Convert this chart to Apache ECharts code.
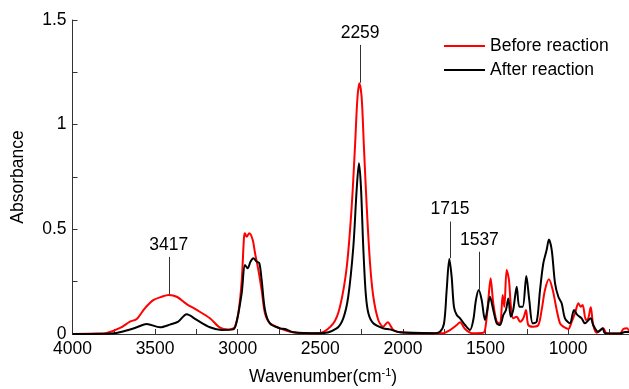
<!DOCTYPE html>
<html>
<head>
<meta charset="utf-8">
<script src="https://cdn.jsdelivr.net/npm/echarts@6/dist/echarts.min.js"></script>
<style>
html,body{margin:0;padding:0;background:#fff;}
#chart{width:629px;height:389px;}
</style>
</head>
<body>
<div id="chart"></div>
<script>
// ---- Data ----
const seriesNames = ['Before reaction', 'After reaction'];

const beforeWave = [4000, 3850, 3793, 3712, 3652, 3611, 3561, 3511, 3460, 3417, 3369, 3309, 3248, 3168, 3107, 3057, 3027, 3016, 2996, 2976, 2962, 2956, 2946, 2930, 2909, 2895, 2875, 2855, 2835, 2805, 2744, 2683, 2600, 2502, 2421, 2381, 2340, 2310, 2290, 2276, 2264, 2250, 2236, 2219, 2199, 2179, 2149, 2119, 2092, 2058, 2018, 1897, 1756, 1715, 1674, 1654, 1624, 1584, 1513, 1497, 1483, 1469, 1453, 1432, 1412, 1396, 1386, 1372, 1358, 1346, 1332, 1311, 1291, 1271, 1255, 1241, 1211, 1180, 1160, 1140, 1116, 1093, 1069, 1049, 1029, 999, 978, 958, 938, 924, 912, 892, 878, 863, 848, 827, 787, 767, 686, 666, 643, 630];
const beforeAbs = [0, 0.002, 0.005, 0.029, 0.059, 0.072, 0.124, 0.162, 0.178, 0.186, 0.178, 0.143, 0.115, 0.075, 0.03, 0.022, 0.027, 0.035, 0.1, 0.25, 0.46, 0.481, 0.465, 0.481, 0.449, 0.386, 0.306, 0.21, 0.099, 0.051, 0.027, 0.011, 0.004, 0.005, 0.051, 0.13, 0.32, 0.608, 0.895, 1.118, 1.198, 1.134, 0.895, 0.608, 0.338, 0.178, 0.067, 0.035, 0.056, 0.019, 0.008, 0.003, 0.004, 0.019, 0.043, 0.056, 0.024, 0.004, 0.006, 0.051, 0.162, 0.266, 0.147, 0.059, 0.051, 0.186, 0.13, 0.306, 0.258, 0.13, 0.075, 0.083, 0.059, 0.075, 0.115, 0.043, 0.035, 0.043, 0.115, 0.21, 0.261, 0.21, 0.115, 0.051, 0.035, 0.024, 0.059, 0.099, 0.147, 0.13, 0.139, 0.067, 0.075, 0.128, 0.043, 0.006, 0.027, 0.004, 0.002, 0.024, 0.027, 0.01];

const afterWave = [4000, 3800, 3733, 3662, 3611, 3551, 3470, 3410, 3360, 3309, 3248, 3168, 3097, 3027, 3006, 2976, 2956, 2940, 2922, 2906, 2885, 2869, 2855, 2835, 2805, 2744, 2714, 2664, 2502, 2401, 2361, 2331, 2300, 2280, 2266, 2254, 2240, 2225, 2209, 2179, 2119, 2078, 2018, 1816, 1776, 1751, 1735, 1719, 1705, 1691, 1674, 1654, 1624, 1594, 1574, 1558, 1541, 1523, 1503, 1489, 1473, 1453, 1432, 1412, 1392, 1376, 1362, 1347, 1332, 1311, 1295, 1275, 1253, 1235, 1214, 1190, 1170, 1150, 1130, 1116, 1099, 1079, 1059, 1039, 1019, 989, 964, 944, 918, 898, 863, 848, 818, 791, 777, 686, 656, 630];
const afterAbs = [0, 0.001, 0.005, 0.019, 0.032, 0.048, 0.032, 0.045, 0.059, 0.094, 0.067, 0.032, 0.019, 0.022, 0.06, 0.194, 0.33, 0.314, 0.346, 0.362, 0.346, 0.338, 0.258, 0.115, 0.051, 0.027, 0.024, 0.008, 0.003, 0.027, 0.075, 0.178, 0.417, 0.688, 0.816, 0.704, 0.417, 0.194, 0.099, 0.051, 0.027, 0.022, 0.008, 0.004, 0.011, 0.051, 0.21, 0.358, 0.274, 0.13, 0.091, 0.075, 0.043, 0.019, 0.067, 0.162, 0.21, 0.162, 0.067, 0.115, 0.178, 0.115, 0.051, 0.043, 0.091, 0.115, 0.17, 0.083, 0.115, 0.226, 0.13, 0.13, 0.277, 0.162, 0.051, 0.059, 0.21, 0.338, 0.401, 0.452, 0.401, 0.242, 0.178, 0.147, 0.075, 0.051, 0.115, 0.091, 0.075, 0.051, 0.075, 0.043, 0.011, 0.027, 0.004, 0.002, 0.01, 0.01];

// peak annotations: label, wavenumber, line bottom, line top (absorbance)
const peakLabels = ['3417', '2259', '1715', '1537'];
const peakWave = [3417, 2259, 1715, 1537];
const peakLineBottom = [0.19, 1.2, 0.362, 0.212];
const peakLineTop = [0.368, 1.381, 0.537, 0.393];

const xTicks = [500, 4000, 500];   // min, max, interval
const yTicks = [0, 1.5, 0.5];

// ---- Build ----
const FONT = 'Liberation Sans, Arial, sans-serif';
const FS = 17.5;

function pairs(xs, ys) { return xs.map((x, i) => [x, ys[i]]); }

const markData = peakWave.map((w, i) => [
  { coord: [w, peakLineBottom[i]], name: peakLabels[i] },
  { coord: [w, peakLineTop[i]] }
]);

const chart = echarts.init(document.getElementById('chart'), null, { renderer: 'canvas' });
chart.setOption({
  animation: false,
  backgroundColor: '#ffffff',
  textStyle: { fontFamily: FONT },
  grid: { left: 72.5, top: 20, height: 314, width: 578.2, outerBoundsMode: 'none', containLabel: false },
  legend: {
    orient: 'vertical',
    left: 444,
    top: 37,
    padding: 0,
    icon: 'rect',
    itemWidth: 41,
    itemHeight: 2,
    itemGap: 6,
    textStyle: { fontSize: FS, color: '#000', fontFamily: FONT, padding: [0, 0, 0, 0] },
    data: seriesNames
  },
  xAxis: {
    type: 'value',
    inverse: true,
    min: xTicks[0],
    max: xTicks[1],
    interval: xTicks[2],
    name: '{n|Wavenumber(cm}{s|-1}{n|)}',
    nameLocation: 'middle',
    nameGap: 33,
    nameTextStyle: {
      padding: [0, 77, 0, 0],
      rich: {
        n: { fontSize: FS, color: '#000', fontFamily: FONT },
        s: { fontSize: 11, color: '#000', fontFamily: FONT, padding: [0, 0, 9, 0] }
      }
    },
    axisLine: { show: true, lineStyle: { color: '#333', width: 1 } },
    axisTick: { show: true, inside: true, length: 5, lineStyle: { color: '#333' } },
    minorTick: { show: true, splitNumber: 2, length: 5, lineStyle: { color: '#333' } },
    splitLine: { show: false },
    axisLabel: { fontSize: FS, color: '#000', margin: 6, fontFamily: FONT, formatter: v => String(v) }
  },
  yAxis: {
    type: 'value',
    min: yTicks[0],
    max: yTicks[1],
    interval: yTicks[2],
    name: 'Absorbance',
    nameLocation: 'middle',
    nameGap: 45,
    nameTextStyle: { fontSize: FS, color: '#000', fontFamily: FONT },
    axisLine: { show: true, lineStyle: { color: '#333', width: 1 } },
    axisTick: { show: true, inside: true, length: 5, lineStyle: { color: '#333' } },
    minorTick: { show: true, splitNumber: 2, length: 5, lineStyle: { color: '#333' } },
    splitLine: { show: false },
    axisLabel: { fontSize: FS, color: '#000', margin: 6, fontFamily: FONT, formatter: v => String(v) }
  },
  series: [
    {
      name: seriesNames[0],
      type: 'line',
      data: pairs(beforeWave, beforeAbs),
      symbol: 'none',
      smooth: 0.3,
      lineStyle: { color: '#ff0000', width: 2 },
      itemStyle: { color: '#ff0000' },
      z: 2
    },
    {
      name: seriesNames[1],
      type: 'line',
      data: pairs(afterWave, afterAbs),
      symbol: 'none',
      smooth: 0.3,
      lineStyle: { color: '#000000', width: 2 },
      itemStyle: { color: '#000000' },
      z: 3,
      markLine: {
        silent: true,
        symbol: ['none', 'none'],
        animation: false,
        lineStyle: { color: '#333', width: 1, type: 'solid' },
        label: { show: true, position: 'end', formatter: '{b}', fontSize: FS, color: '#000', fontFamily: FONT, distance: 3 },
        emphasis: { disabled: true },
        data: markData
      }
    }
  ]
});
</script>
</body>
</html>
